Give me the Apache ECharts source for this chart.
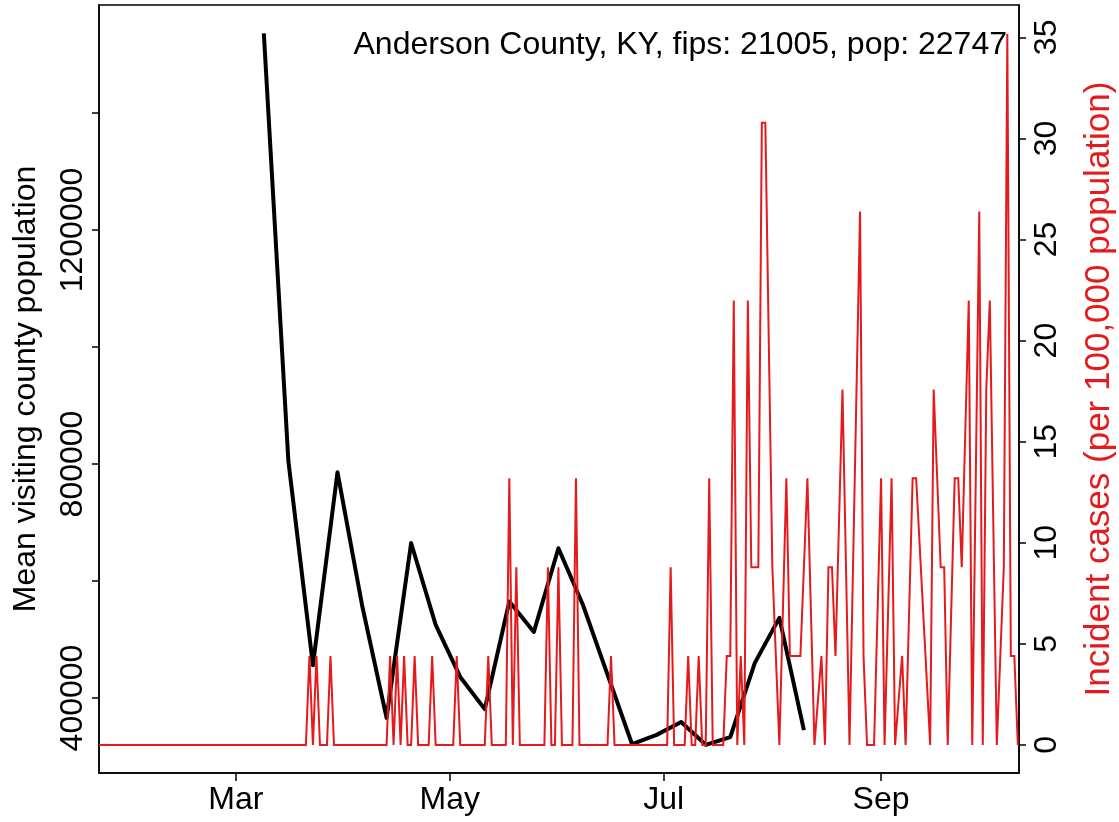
<!DOCTYPE html>
<html><head><meta charset="utf-8">
<script src="https://cdn.jsdelivr.net/npm/echarts@6/dist/echarts.min.js"></script>
<style>html,body{margin:0;padding:0;background:#fff}#c{width:1119px;height:822px}</style>
</head><body><div id="c"></div>
<script>
// ---- data ----
const titleText = 'Anderson County, KY, fips: 21005, pop: 22747';
const leftAxisName = 'Mean visiting county population';
const rightAxisName = 'Incident cases (per 100,000 population)';

const xTickDates = ['2020-03-01', '2020-05-01', '2020-07-01', '2020-09-01'];
const xTickLabels = ['Mar', 'May', 'Jul', 'Sep'];
const leftTickValues = [400000, 600000, 800000, 1000000, 1200000, 1400000];
const leftLabelValues = [400000, 800000, 1200000];
const rightTickValues = [0, 5, 10, 15, 20, 25, 30, 35];

const visitDates = ['2020-03-09','2020-03-16','2020-03-23','2020-03-30','2020-04-06','2020-04-13','2020-04-20','2020-04-27',
  '2020-05-04','2020-05-11','2020-05-18','2020-05-25','2020-06-01','2020-06-08','2020-06-15','2020-06-22','2020-06-29',
  '2020-07-06','2020-07-13','2020-07-20','2020-07-27','2020-08-03','2020-08-10'];
const visitValues = [1536000, 805000, 456000, 786000, 559000, 366000, 665000, 525000,
  436000, 381000, 565000, 513000, 656000, 559000, 440000, 321000, 337000,
  359000, 320000, 333000, 460000, 537000, 345000];

const caseDates = ['2020-01-22',
  '2020-03-21','2020-03-22','2020-03-23','2020-03-24','2020-03-25',
  '2020-03-27','2020-03-28','2020-03-29',
  '2020-04-13','2020-04-14','2020-04-15','2020-04-16','2020-04-17','2020-04-18','2020-04-19',
  '2020-04-20','2020-04-21','2020-04-22',
  '2020-04-25','2020-04-26','2020-04-27',
  '2020-05-02','2020-05-03','2020-05-04',
  '2020-05-11','2020-05-12','2020-05-13',
  '2020-05-17','2020-05-18','2020-05-19','2020-05-20','2020-05-21',
  '2020-05-28','2020-05-29','2020-05-30',
  '2020-05-31','2020-06-01','2020-06-02',
  '2020-06-05','2020-06-06','2020-06-07',
  '2020-06-15','2020-06-16','2020-06-17',
  '2020-07-02','2020-07-03','2020-07-04',
  '2020-07-07','2020-07-08','2020-07-09',
  '2020-07-10','2020-07-11','2020-07-12',
  '2020-07-13','2020-07-14','2020-07-15',
  '2020-07-18','2020-07-19','2020-07-20','2020-07-21','2020-07-22','2020-07-23','2020-07-24','2020-07-25',
  '2020-07-26','2020-07-27','2020-07-28','2020-07-29','2020-07-30','2020-08-01','2020-08-03',
  '2020-08-05','2020-08-06','2020-08-07','2020-08-08','2020-08-09','2020-08-11','2020-08-13',
  '2020-08-15','2020-08-16','2020-08-17','2020-08-18','2020-08-19','2020-08-21','2020-08-23',
  '2020-08-26','2020-08-27','2020-08-28','2020-08-30',
  '2020-09-01','2020-09-02','2020-09-04','2020-09-05','2020-09-07','2020-09-08','2020-09-10','2020-09-11','2020-09-15',
  '2020-09-16','2020-09-18','2020-09-19','2020-09-20','2020-09-22','2020-09-23','2020-09-24','2020-09-26','2020-09-27',
  '2020-09-29','2020-09-30','2020-10-01','2020-10-02','2020-10-04','2020-10-06','2020-10-07','2020-10-08','2020-10-09','2020-10-10'];
const caseRates = [0,
  0, 4.40, 0, 4.40, 0,
  0, 4.40, 0,
  0, 4.40, 0, 4.40, 0, 4.40, 0,
  0, 4.40, 0,
  0, 4.40, 0,
  0, 4.40, 0,
  0, 4.40, 0,
  0, 13.19, 0, 8.79, 0,
  0, 8.79, 0,
  0, 8.79, 0,
  0, 13.19, 0,
  0, 4.40, 0,
  0, 8.79, 0,
  0, 4.40, 0,
  0, 4.40, 0,
  0, 13.19, 0,
  0, 4.40, 4.40, 21.98, 0, 4.40, 0, 21.98,
  8.79, 8.79, 8.79, 30.77, 30.77, 8.79, 0,
  13.19, 4.40, 4.40, 4.40, 4.40, 13.19, 0,
  4.40, 0, 8.79, 8.79, 4.40, 17.58, 0,
  26.38, 4.40, 0, 0,
  13.19, 0, 13.19, 0, 4.40, 0, 13.19, 13.19, 0,
  17.58, 8.79, 8.79, 0, 13.19, 13.19, 8.79, 21.98, 0,
  26.38, 0, 17.58, 21.98, 0, 8.79, 35.17, 4.40, 4.40, 0];

// ---- build ----
const ts = s => { const p = s.split('-').map(Number); return Date.UTC(p[0], p[1] - 1, p[2]); };
const DAY = 86400000;
const xMin = ts('2020-01-22');
const xMax = xMin + 262.33 * DAY;
const xTicks = xTickDates.map(ts);
const FONT = 'Liberation Sans, Arial, sans-serif';
const FS = 32;
const RED = '#e41a1c';

const chart = echarts.init(document.getElementById('c'), null, {renderer: 'canvas'});
chart.setOption({
  animation: false,
  backgroundColor: '#fff',
  grid: {left: 99, right: 100, top: 5, bottom: 49, containLabel: false, outerBoundsMode: 'none',
         show: true, borderColor: '#000', borderWidth: 1.5, backgroundColor: 'transparent'},
  xAxis: {
    type: 'value', min: xMin, max: xMax, scale: true,
    axisLine: {show: true, onZero: false, lineStyle: {color: '#000', width: 1.5}},
    axisTick: {show: true, length: 8, lineStyle: {color: '#000', width: 1.5}, customValues: xTicks},
    axisLabel: {show: true, customValues: xTicks, margin: 11, color: '#000', fontSize: FS, fontFamily: FONT,
      formatter: v => { const i = xTicks.indexOf(v); return i >= 0 ? xTickLabels[i] : ''; }},
    splitLine: {show: false}, minorTick: {show: false}
  },
  yAxis: [{
    type: 'value', position: 'left', min: 271800, max: 1584600,
    axisLine: {show: true, lineStyle: {color: '#000', width: 1.5}},
    axisTick: {show: true, length: 7, lineStyle: {color: '#000', width: 1.5}, customValues: leftTickValues},
    axisLabel: {show: true, rotate: 90, margin: 10, customValues: leftLabelValues, color: '#000', fontSize: FS, fontFamily: FONT,
      formatter: v => String(v)},
    splitLine: {show: false}
  }, {
    type: 'value', position: 'right', min: -1.39, max: 36.6,
    axisLine: {show: true, lineStyle: {color: '#000', width: 1.5}},
    axisTick: {show: true, length: 7, lineStyle: {color: '#000', width: 1.5}, customValues: rightTickValues},
    axisLabel: {show: true, rotate: 90, margin: 12, customValues: rightTickValues, color: '#000', fontSize: FS, fontFamily: FONT,
      formatter: v => String(v)},
    splitLine: {show: false}
  }],
  series: [{
    type: 'line', yAxisIndex: 0, symbol: 'none', z: 2,
    data: visitDates.map((d, i) => [ts(d), visitValues[i]]),
    lineStyle: {color: '#000', width: 4, join: 'round'}
  }, {
    type: 'line', yAxisIndex: 1, symbol: 'none', z: 3,
    data: caseDates.map((d, i) => [ts(d), caseRates[i]]),
    lineStyle: {color: RED, width: 2, join: 'miter'}
  }],
  graphic: [
    {type: 'text', x: 1007, y: 45, style: {text: titleText, fill: '#000', font: FS + 'px ' + FONT, textAlign: 'right', textVerticalAlign: 'middle'}},
    {type: 'text', x: 26, y: 389, rotation: Math.PI / 2, style: {text: leftAxisName, fill: '#000', font: FS + 'px ' + FONT, textAlign: 'center', textVerticalAlign: 'middle'}},
    {type: 'text', x: 1099, y: 389, rotation: Math.PI / 2, style: {text: rightAxisName, fill: RED, font: '35px ' + FONT, textAlign: 'center', textVerticalAlign: 'middle'}}
  ]
});
</script>
</body></html>
